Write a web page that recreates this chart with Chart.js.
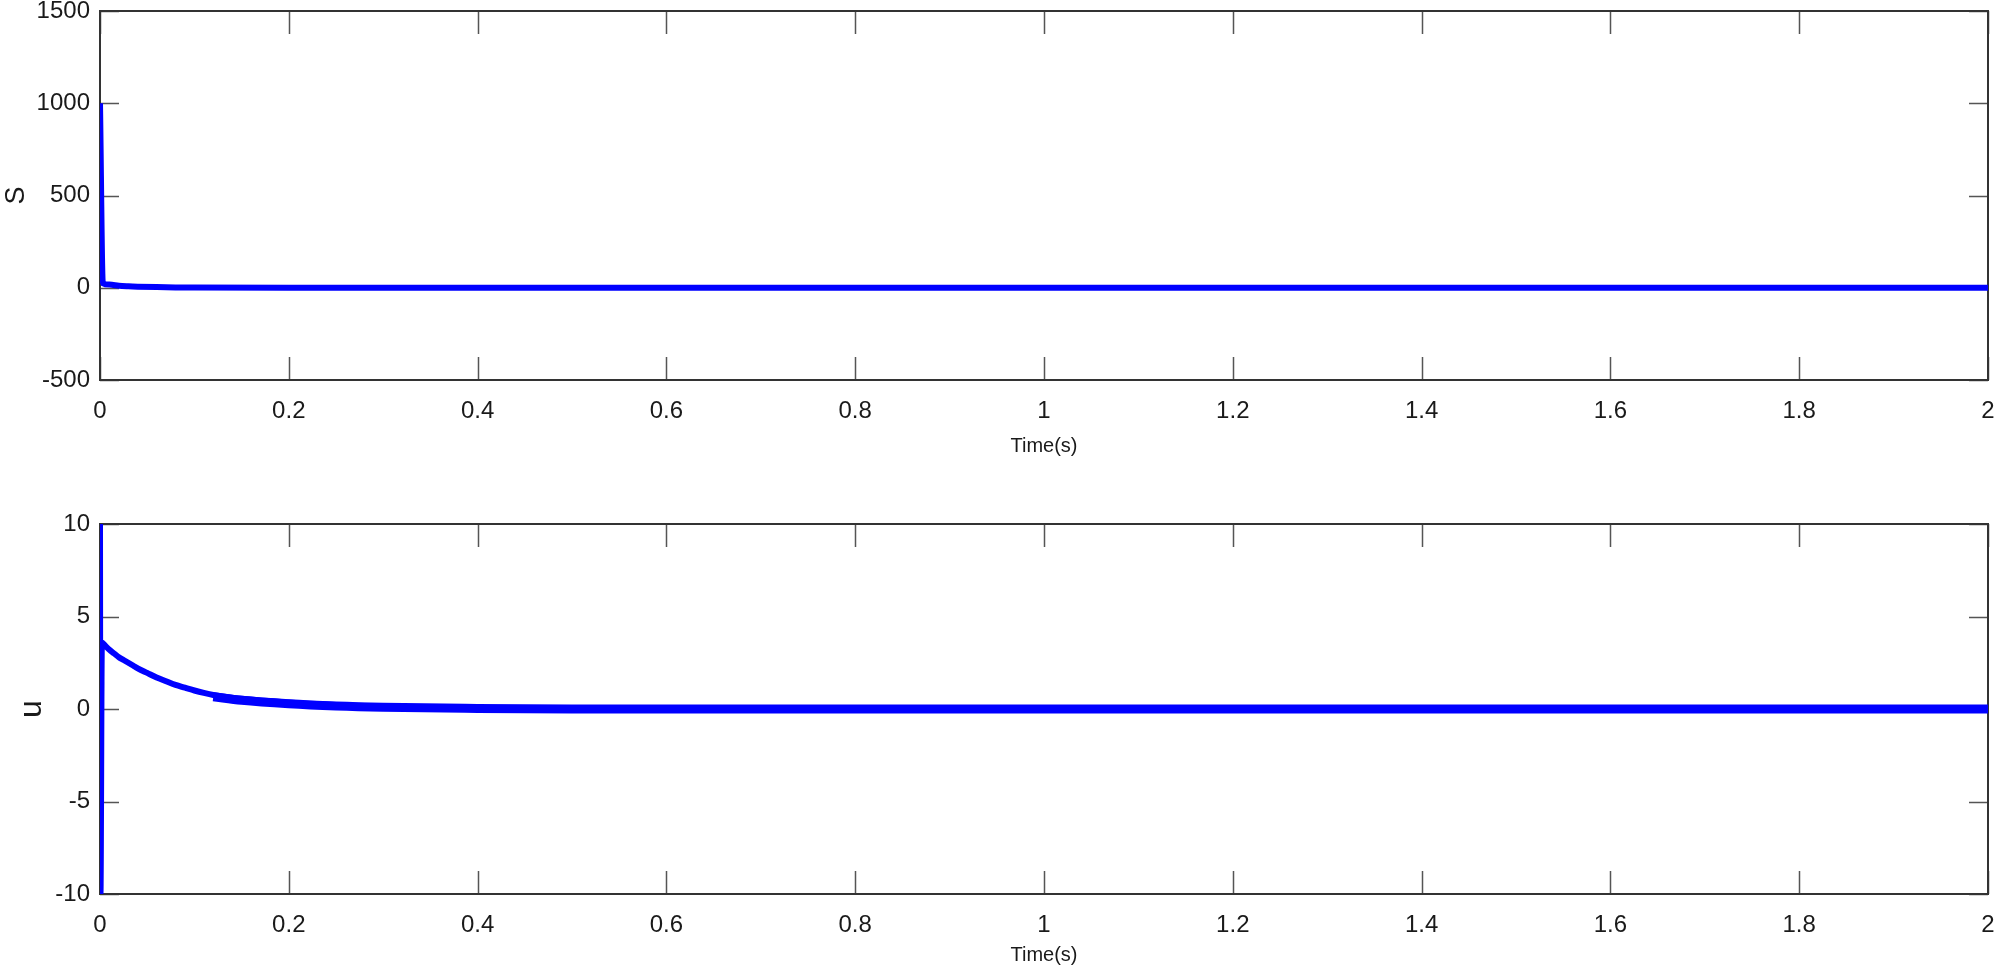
<!DOCTYPE html>
<html>
<head>
<meta charset="utf-8">
<script src="https://cdn.jsdelivr.net/npm/chart.js@4/dist/chart.umd.min.js"></script>
<style>
  body { margin: 0; background: #fff; }
  canvas { display: block; }
</style>
</head>
<body>
<canvas id="chartS" width="2000" height="486"></canvas>
<canvas id="chartU" width="2000" height="487"></canvas>
<script>
// time axis (s) and tick labels
const xTickLabels = ['0', '0.2', '0.4', '0.6', '0.8', '1', '1.2', '1.4', '1.6', '1.8', '2'];

// sliding surface S
const sTime = [0, 0.003, 0.01, 0.02, 0.03, 0.04, 0.06, 0.08, 0.1, 0.2, 2];
const sValues = [1000, 25, 17, 11, 8, 6, 3.5, 2, 1, 0, 0];
const sTickLabels = ['-500', '0', '500', '1000', '1500'];

// control input u
const uTime = [0, 0.0005, 0.002, 0.005, 0.01, 0.015, 0.02, 0.025, 0.03, 0.035, 0.04, 0.05, 0.06, 0.07, 0.08, 0.09, 0.1, 0.11, 0.12,
  0.15, 0.2, 0.25, 0.3, 0.4, 0.5, 0.6, 0.8, 1, 2];
const uValues = [10, -10, 3.6, 3.45, 3.2, 3.0, 2.8, 2.65, 2.5, 2.35, 2.2, 1.95, 1.7, 1.5, 1.3, 1.15, 1.0, 0.87, 0.76,
  0.55, 0.35, 0.22, 0.14, 0.06, 0.02, 0.01, 0, 0, 0];
// chattering band after t = 0.12
const uBandTime = [0.12, 0.15, 0.2, 0.25, 0.3, 0.4, 0.5, 0.6, 0.8, 1, 2];
const uBandValues = [0.66, 0.47, 0.28, 0.16, 0.09, 0.03, 0, 0, 0, 0, 0];
const uTickLabels = ['-10', '-5', '0', '5', '10'];

const blue = '#0000ff';
const axisColor = '#333333';
const tickFont = { family: "'Liberation Sans', Arial, sans-serif", size: 24 };

const toPoints = (xs, ys) => xs.map((x, i) => ({ x: x, y: ys[i] }));

// draws the matlab style box with inward ticks on all four sides
const boxPlugin = {
  id: 'box',
  beforeDatasetsDraw(chart) {
    const { ctx, chartArea: a, scales } = chart;
    ctx.save();
    ctx.strokeStyle = '#555555';
    ctx.lineWidth = 1.5;
    ctx.beginPath();
    scales.x.ticks.forEach((t) => {
      const px = Math.round(scales.x.getPixelForValue(t.value)) + 0.5;
      ctx.moveTo(px, a.bottom); ctx.lineTo(px, a.bottom - 23);
      ctx.moveTo(px, a.top); ctx.lineTo(px, a.top + 23);
    });
    scales.y.ticks.forEach((t) => {
      const py = Math.round(scales.y.getPixelForValue(t.value)) + 0.5;
      ctx.moveTo(a.left, py); ctx.lineTo(a.left + 19, py);
      ctx.moveTo(a.right, py); ctx.lineTo(a.right - 19, py);
    });
    ctx.stroke();
    ctx.strokeStyle = axisColor;
    ctx.lineWidth = 2;
    ctx.strokeRect(a.left, a.top, a.right - a.left, a.bottom - a.top);
    ctx.restore();
  }
};

const makeChart = (id, datasets, yMin, yMax, yStep, yLabels, yTitle, yTitleFont, yTitlePad, topPad, xHeight, xTitlePad) => {
  return new Chart(document.getElementById(id), {
    type: 'line',
    data: { datasets: datasets },
    plugins: [boxPlugin],
    options: {
      responsive: false,
      animation: false,
      layout: { padding: { top: topPad, right: 12, left: 0, bottom: 0 } },
      plugins: { legend: { display: false }, tooltip: { enabled: false } },
      elements: { point: { radius: 0 }, line: { cubicInterpolationMode: 'monotone' } },
      scales: {
        x: {
          type: 'linear',
          min: 0, max: 2,
          afterFit: (scale) => {
            scale.height = xHeight;
            scale.paddingLeft = 0;
            scale.paddingRight = 0;
          },
          grid: { display: false, drawTicks: false },
          border: { display: false },
          ticks: {
            stepSize: 0.2,
            padding: 17,
            color: '#1a1a1a',
            font: tickFont,
            maxRotation: 0,
            autoSkip: false,
            callback: (v, i) => xTickLabels[i]
          },
          title: {
            display: true,
            text: 'Time(s)',
            color: '#1a1a1a',
            font: { family: "'Liberation Sans', Arial, sans-serif", size: 20 },
            padding: { top: 0, bottom: xTitlePad }
          }
        },
        y: {
          min: yMin, max: yMax,
          afterFit: (scale) => {
            scale.width = 100;
            scale.paddingTop = 0;
            scale.paddingBottom = 0;
          },
          grid: { display: false, drawTicks: false },
          border: { display: false },
          ticks: {
            stepSize: yStep,
            padding: 10,
            color: '#1a1a1a',
            font: tickFont,
            callback: (v, i) => yLabels[i]
          },
          title: {
            display: true,
            text: yTitle,
            color: '#1a1a1a',
            font: { family: "'Liberation Sans', Arial, sans-serif", size: yTitleFont },
            padding: { top: yTitlePad, bottom: 0 }
          }
        }
      }
    }
  });
};

makeChart('chartS', [
  { data: toPoints(sTime, sValues), borderColor: blue, borderWidth: 6, fill: false }
], -500, 1500, 500, sTickLabels, 'S', 27, 0, 11, 106, 28);

makeChart('chartU', [
  { data: toPoints(uTime, uValues), borderColor: blue, borderWidth: 6, fill: false },
  { data: toPoints(uBandTime, uBandValues), borderColor: blue, borderWidth: 9, fill: false }
], -10, 10, 5, uTickLabels, 'u', 32, 13, 38, 79, 6);
</script>
</body>
</html>
